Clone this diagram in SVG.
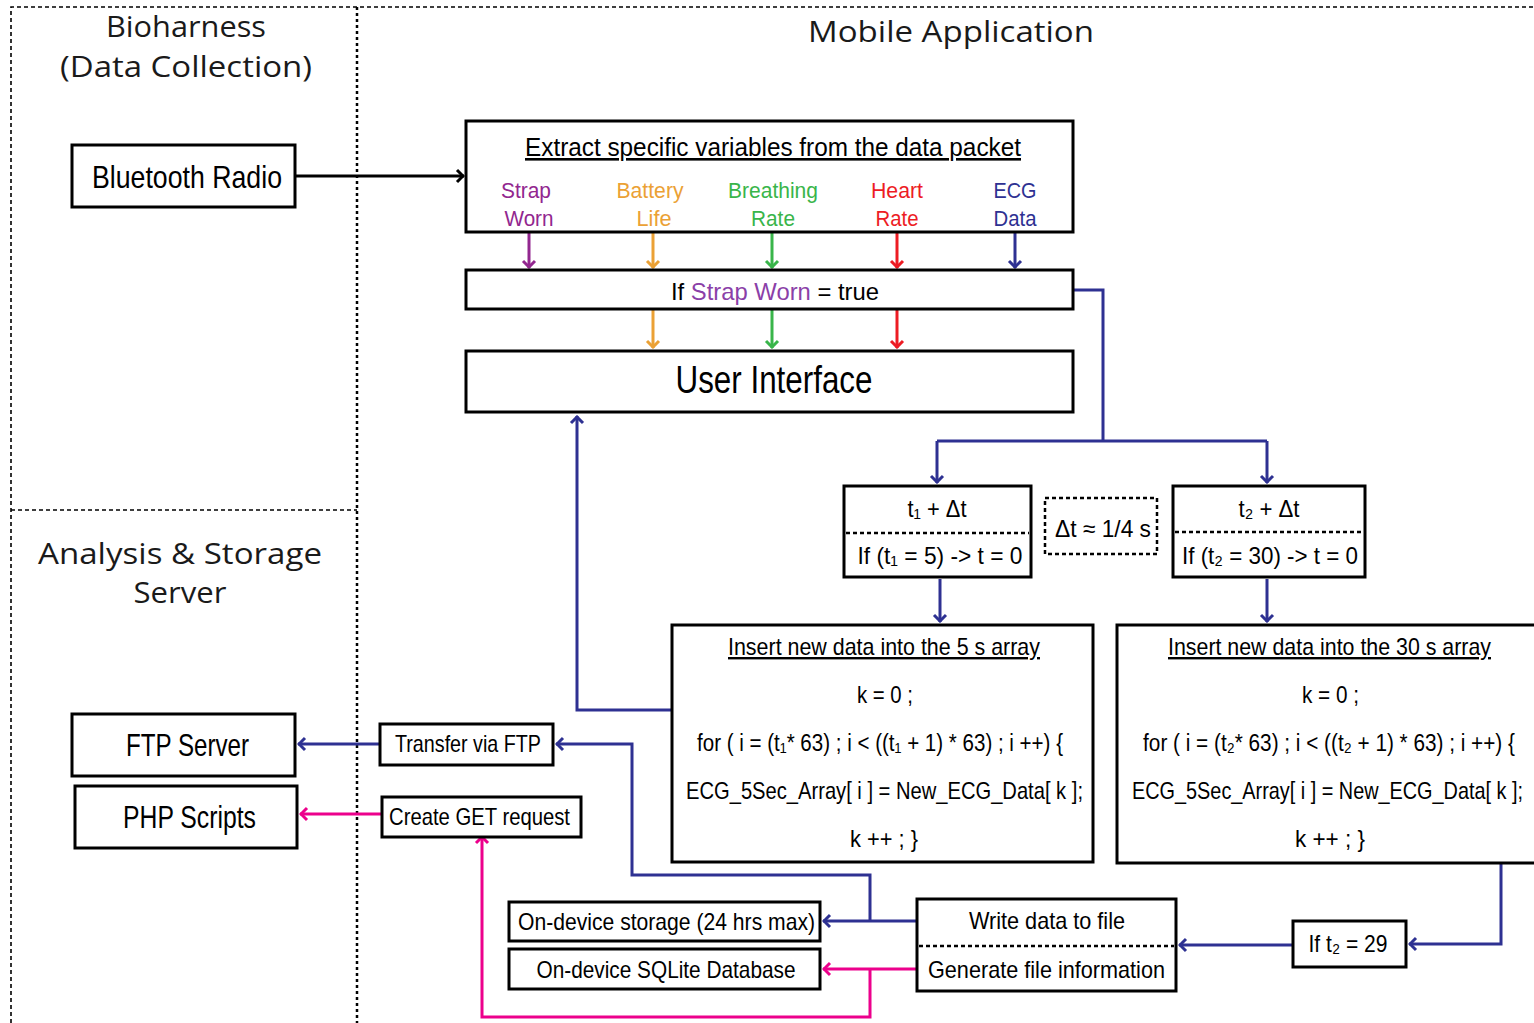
<svg xmlns="http://www.w3.org/2000/svg" width="1534" height="1023" viewBox="0 0 1534 1023">
<style>
.bx{fill:#fff;stroke:#000;stroke-width:3}
.dv{stroke:#000;stroke-width:2.5;stroke-dasharray:4 3;fill:none}
.t{font-family:"Liberation Sans",Arial,"DejaVu Sans",sans-serif;fill:#000;text-anchor:middle}
.h{font-family:"Open Sans","DejaVu Sans",sans-serif;fill:#1a1a1a;text-anchor:middle;font-size:29px}
.c{fill:none;stroke-width:3}
.k{stroke:#000}.bl{stroke:#2E3192}.pk{stroke:#EC008C}.pu{stroke:#92278F}.or{stroke:#EBA135}.gr{stroke:#39B54A}.rd{stroke:#ED1C24}
.frame{fill:none;stroke:#000;stroke-width:1.6;stroke-dasharray:4 3}
</style>
<defs>
<marker id="ak" viewBox="-9 -8 10 16" refX="0" refY="0" markerWidth="10" markerHeight="16" markerUnits="userSpaceOnUse" orient="auto"><path d="M-7,-6 L-1,0 L-7,6" fill="none" stroke="#000" stroke-width="3"/></marker>
<marker id="ab" viewBox="-9 -8 10 16" refX="0" refY="0" markerWidth="10" markerHeight="16" markerUnits="userSpaceOnUse" orient="auto"><path d="M-7,-6 L-1,0 L-7,6" fill="none" stroke="#2E3192" stroke-width="3"/></marker>
<marker id="ap" viewBox="-9 -8 10 16" refX="0" refY="0" markerWidth="10" markerHeight="16" markerUnits="userSpaceOnUse" orient="auto"><path d="M-7,-6 L-1,0 L-7,6" fill="none" stroke="#EC008C" stroke-width="3"/></marker>
<marker id="au" viewBox="-9 -8 10 16" refX="0" refY="0" markerWidth="10" markerHeight="16" markerUnits="userSpaceOnUse" orient="auto"><path d="M-7,-6 L-1,0 L-7,6" fill="none" stroke="#92278F" stroke-width="3"/></marker>
<marker id="ao" viewBox="-9 -8 10 16" refX="0" refY="0" markerWidth="10" markerHeight="16" markerUnits="userSpaceOnUse" orient="auto"><path d="M-7,-6 L-1,0 L-7,6" fill="none" stroke="#EBA135" stroke-width="3"/></marker>
<marker id="ag" viewBox="-9 -8 10 16" refX="0" refY="0" markerWidth="10" markerHeight="16" markerUnits="userSpaceOnUse" orient="auto"><path d="M-7,-6 L-1,0 L-7,6" fill="none" stroke="#39B54A" stroke-width="3"/></marker>
<marker id="ar" viewBox="-9 -8 10 16" refX="0" refY="0" markerWidth="10" markerHeight="16" markerUnits="userSpaceOnUse" orient="auto"><path d="M-7,-6 L-1,0 L-7,6" fill="none" stroke="#ED1C24" stroke-width="3"/></marker>
</defs>
<rect width="1534" height="1023" fill="#fff"/>

<g id="frame">
<path class="frame" d="M11,1023 V7 H1534"/>
<path d="M357,7 V1023" fill="none" stroke="#000" stroke-width="2.5" stroke-dasharray="3 3"/>
<path class="frame" d="M11,510 H357"/>
<text class="h" x="186" y="37" textLength="160" lengthAdjust="spacingAndGlyphs">Bioharness</text>
<text class="h" x="186" y="77" textLength="252" lengthAdjust="spacingAndGlyphs">(Data Collection)</text>
<text class="h" x="951" y="42" font-size="31" textLength="286" lengthAdjust="spacingAndGlyphs">Mobile Application</text>
<text class="h" x="180" y="564" textLength="284" lengthAdjust="spacingAndGlyphs">Analysis &amp; Storage</text>
<text class="h" x="180" y="603" textLength="93" lengthAdjust="spacingAndGlyphs">Server</text>
</g>

<g id="connectors">
<path class="c k" d="M296,176 H464" marker-end="url(#ak)"/>
<path class="c pu" d="M529,232 V268" marker-end="url(#au)"/>
<path class="c or" d="M653,232 V268" marker-end="url(#ao)"/>
<path class="c gr" d="M772,232 V268" marker-end="url(#ag)"/>
<path class="c rd" d="M897,232 V268" marker-end="url(#ar)"/>
<path class="c bl" d="M1015,232 V268" marker-end="url(#ab)"/>
<path class="c or" d="M653,310 V348" marker-end="url(#ao)"/>
<path class="c gr" d="M772,310 V348" marker-end="url(#ag)"/>
<path class="c rd" d="M897,310 V348" marker-end="url(#ar)"/>
<path class="c bl" d="M1073,290 H1103 V441"/>
<path class="c bl" d="M937,441 H1267"/>
<path class="c bl" d="M937,441 V483" marker-end="url(#ab)"/>
<path class="c bl" d="M1267,441 V483" marker-end="url(#ab)"/>
<path class="c bl" d="M940,579 V622" marker-end="url(#ab)"/>
<path class="c bl" d="M1267,579 V622" marker-end="url(#ab)"/>
<path class="c bl" d="M672,710 H577 V416" marker-end="url(#ab)"/>
<path class="c bl" d="M1501,863 V944 H1409" marker-end="url(#ab)"/>
<path class="c bl" d="M1293,945 H1179" marker-end="url(#ab)"/>
<path class="c bl" d="M917,921 H823" marker-end="url(#ab)"/>
<path class="c bl" d="M870,921 V875 H632 V744 H556" marker-end="url(#ab)"/>
<path class="c bl" d="M380,744 H298" marker-end="url(#ab)"/>
<path class="c pk" d="M917,969 H823" marker-end="url(#ap)"/>
<path class="c pk" d="M870,969 V1017 H482 V836" marker-end="url(#ap)"/>
<path class="c pk" d="M382,814 H300" marker-end="url(#ap)"/>
</g>

<g id="bluetooth">
<rect class="bx" x="72" y="145" width="223" height="62"/>
<text class="t" x="187" y="188" font-size="32" textLength="190" lengthAdjust="spacingAndGlyphs">Bluetooth Radio</text>
</g>

<g id="extract">
<rect class="bx" x="466" y="121" width="607" height="111"/>
<text class="t" x="773" y="156" font-size="26" text-decoration="underline" textLength="496" lengthAdjust="spacingAndGlyphs">Extract  specific variables from the data packet</text>
<g font-size="22">
<text class="t" x="526" y="198" style="fill:#92278F" textLength="50" lengthAdjust="spacingAndGlyphs">Strap</text>
<text class="t" x="529" y="226" style="fill:#92278F" textLength="49" lengthAdjust="spacingAndGlyphs">Worn</text>
<text class="t" x="650" y="198" style="fill:#EBA135" textLength="67" lengthAdjust="spacingAndGlyphs">Battery</text>
<text class="t" x="654" y="226" style="fill:#EBA135" textLength="35" lengthAdjust="spacingAndGlyphs">Life</text>
<text class="t" x="773" y="198" style="fill:#39B54A" textLength="90" lengthAdjust="spacingAndGlyphs">Breathing</text>
<text class="t" x="773" y="226" style="fill:#39B54A" textLength="44" lengthAdjust="spacingAndGlyphs">Rate</text>
<text class="t" x="897" y="198" style="fill:#ED1C24" textLength="52" lengthAdjust="spacingAndGlyphs">Heart</text>
<text class="t" x="897" y="226" style="fill:#ED1C24" textLength="43" lengthAdjust="spacingAndGlyphs">Rate</text>
<text class="t" x="1015" y="198" style="fill:#2E3192" textLength="43" lengthAdjust="spacingAndGlyphs">ECG</text>
<text class="t" x="1015" y="226" style="fill:#2E3192" textLength="43" lengthAdjust="spacingAndGlyphs">Data</text>
</g>
</g>

<g id="strap-check">
<rect class="bx" x="466" y="270" width="607" height="39"/>
<text class="t" x="775" y="300" font-size="24" textLength="208" lengthAdjust="spacingAndGlyphs">If <tspan style="fill:#8B3FA8">Strap Worn</tspan> = true</text>
</g>

<g id="user-interface">
<rect class="bx" x="466" y="351" width="607" height="61"/>
<text class="t" x="774" y="393" font-size="38" textLength="197" lengthAdjust="spacingAndGlyphs">User Interface</text>
</g>

<g id="timer1">
<rect class="bx" x="844" y="486" width="187" height="91"/>
<path class="dv" d="M846,533 H1029"/>
<text class="t" x="937" y="517" font-size="24" textLength="59" lengthAdjust="spacingAndGlyphs">t₁ + Δt</text>
<text class="t" x="940" y="564" font-size="24" textLength="165" lengthAdjust="spacingAndGlyphs">If (t₁ = 5)  -&gt;  t = 0</text>
</g>

<g id="delta">
<rect x="1045" y="498" width="112" height="56" fill="none" stroke="#000" stroke-width="2.5" stroke-dasharray="4 3"/>
<text class="t" x="1103" y="537" font-size="24" textLength="96" lengthAdjust="spacingAndGlyphs">Δt  ≈ 1/4 s</text>
</g>

<g id="timer2">
<rect class="bx" x="1173" y="486" width="192" height="91"/>
<path class="dv" d="M1175,532 H1363"/>
<text class="t" x="1269" y="517" font-size="24" textLength="61" lengthAdjust="spacingAndGlyphs">t₂ + Δt</text>
<text class="t" x="1270" y="564" font-size="24" textLength="176" lengthAdjust="spacingAndGlyphs">If (t₂ = 30)  -&gt;  t = 0</text>
</g>

<g id="array5">
<rect class="bx" x="672" y="625" width="421" height="237"/>
<g font-size="24">
<text class="t" x="884" y="655" text-decoration="underline" textLength="312" lengthAdjust="spacingAndGlyphs">Insert new data into the 5 s array</text>
<text class="t" x="885" y="703" textLength="56" lengthAdjust="spacingAndGlyphs">k = 0 ;</text>
<text class="t" transform="translate(880,751) scale(0.85,1)" textLength="430.6" lengthAdjust="spacingAndGlyphs">for ( i = (t₁* 63) ;  i &lt; ((t₁ + 1) * 63) ; i ++) {</text>
<text class="t" transform="translate(884.5,799) scale(0.85,1)" textLength="467" lengthAdjust="spacingAndGlyphs">ECG_5Sec_Array[ i ] = New_ECG_Data[ k ];</text>
<text class="t" x="884" y="847" textLength="68" lengthAdjust="spacingAndGlyphs">k ++ ;  }</text>
</g>
</g>

<g id="array30">
<path class="bx" d="M1540,625 H1117 V863 H1540"/>
<g font-size="24">
<text class="t" x="1329.5" y="655" text-decoration="underline" textLength="323" lengthAdjust="spacingAndGlyphs">Insert new data into the 30 s array</text>
<text class="t" x="1330.5" y="703" textLength="57" lengthAdjust="spacingAndGlyphs">k = 0 ;</text>
<text class="t" transform="translate(1329,751) scale(0.83,1)" textLength="448" lengthAdjust="spacingAndGlyphs">for ( i = (t₂* 63) ;  i &lt; ((t₂ + 1) * 63) ; i ++) {</text>
<text class="t" transform="translate(1327.5,799) scale(0.83,1)" textLength="471" lengthAdjust="spacingAndGlyphs">ECG_5Sec_Array[ i ] = New_ECG_Data[ k ];</text>
<text class="t" x="1330" y="847" textLength="70" lengthAdjust="spacingAndGlyphs">k ++ ;  }</text>
</g>
</g>

<g id="if-t2">
<rect class="bx" x="1293" y="921" width="113" height="46"/>
<text class="t" x="1348" y="952" font-size="24" textLength="79" lengthAdjust="spacingAndGlyphs">If t₂ = 29</text>
</g>

<g id="write-file">
<rect class="bx" x="917" y="899" width="259" height="92"/>
<path class="dv" d="M919,946 H1174"/>
<text class="t" x="1047" y="929" font-size="24" textLength="156" lengthAdjust="spacingAndGlyphs">Write data to file</text>
<text class="t" x="1046.5" y="978" font-size="24" textLength="237" lengthAdjust="spacingAndGlyphs">Generate file information</text>
</g>

<g id="storage">
<rect class="bx" x="509" y="902" width="311" height="39"/>
<text class="t" x="666.5" y="930" font-size="24" textLength="297" lengthAdjust="spacingAndGlyphs">On-device storage (24 hrs max)</text>
</g>

<g id="sqlite">
<rect class="bx" x="509" y="949" width="311" height="40"/>
<text class="t" x="666" y="978" font-size="24" textLength="259" lengthAdjust="spacingAndGlyphs">On-device SQLite Database</text>
</g>

<g id="transfer-ftp">
<rect class="bx" x="380" y="724" width="173" height="41"/>
<text class="t" x="468" y="752" font-size="24" textLength="146" lengthAdjust="spacingAndGlyphs">Transfer via FTP</text>
</g>

<g id="get-request">
<rect class="bx" x="382" y="797" width="199" height="40"/>
<text class="t" x="479.5" y="825" font-size="24" textLength="181" lengthAdjust="spacingAndGlyphs">Create GET request</text>
</g>

<g id="ftp-server">
<rect class="bx" x="72" y="714" width="223" height="62"/>
<text class="t" x="187.5" y="756" font-size="32" textLength="123" lengthAdjust="spacingAndGlyphs">FTP Server</text>
</g>

<g id="php-scripts">
<rect class="bx" x="75" y="786" width="222" height="62"/>
<text class="t" x="189.5" y="828" font-size="32" textLength="133" lengthAdjust="spacingAndGlyphs">PHP Scripts</text>
</g>
</svg>
